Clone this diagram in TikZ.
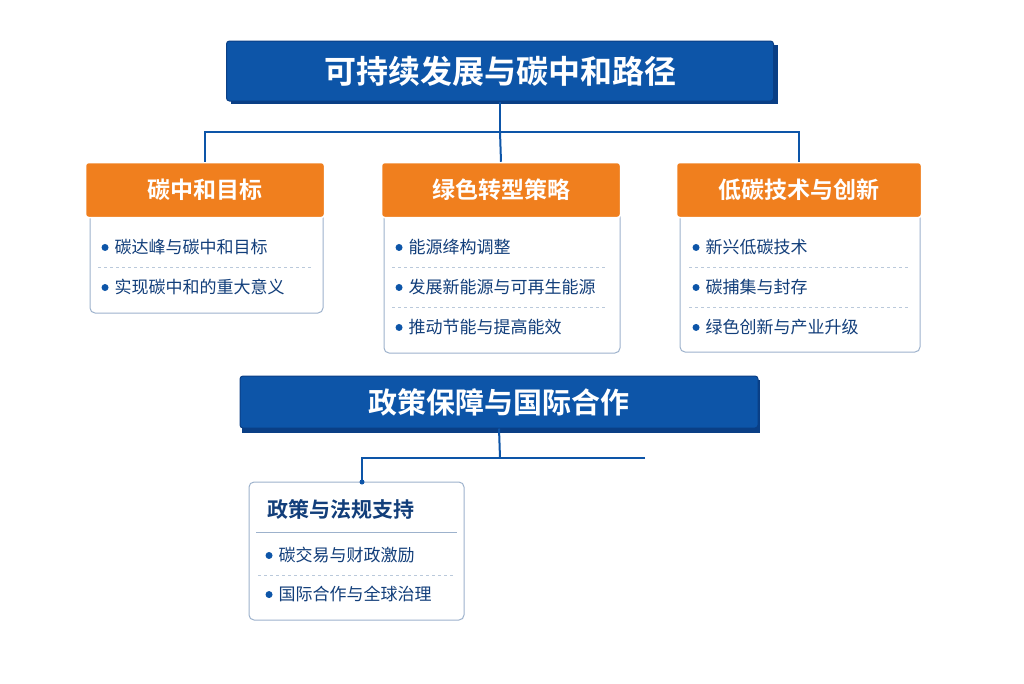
\documentclass[tikz,border=0pt]{standalone}
\usepackage{fontspec}
\setmainfont{Noto Sans CJK SC}
\newfontfamily\cjkbold{Noto Sans CJK SC Bold}
\usetikzlibrary{positioning}
\definecolor{mainblue}{HTML}{0D55A8}
\definecolor{darkblue}{HTML}{0A3F85}
\definecolor{mainorange}{HTML}{F07F1E}
\definecolor{boxline}{HTML}{9DB2CC}
\definecolor{textblue}{HTML}{123E7A}
\newcommand{\dotmark}{\tikz[baseline={(0,-6pt)}]\fill[mainblue] (0,0) circle [radius=3.5pt];\hspace{6pt}}

\begin{document}
\begin{tikzpicture}[x=1pt, y=-1pt,
    bluebar/.style={fill=mainblue, draw=darkblue, line width=1pt, rounded corners=3pt, text=white, font=\cjkbold},
    orangebar/.style={fill=mainorange, draw=white, line width=1.5pt, rounded corners=3pt, text=white, font=\cjkbold\fontsize{23}{26}\selectfont},
    itembox/.style={fill=white, draw=boxline, line width=1pt, rounded corners=5pt},
    item/.style={anchor=west, text=textblue, font=\fontsize{17}{20}\selectfont},
    sep/.style={draw=boxline!70, dashed, line width=0.5pt},
    link/.style={draw=mainblue, line width=2pt}]
    \useasboundingbox (0,0) rectangle (1024,683);

    % Title and policy bars
    \fill[darkblue] (231,45) rectangle (778,104);
    \node [bluebar, minimum width=547pt, minimum height=60pt, font=\cjkbold\fontsize{32}{36}\selectfont] (title) at (500,71) {可持续发展与碳中和路径};
    \fill[darkblue] (242,380) rectangle (760,433);
    \node [bluebar, minimum width=518pt, minimum height=52pt, font=\cjkbold\fontsize{29}{32}\selectfont] (policy) at (499,402) {政策保障与国际合作};

    % Item boxes
    \draw [itembox] (90,210) rectangle (323,313);
    \draw [itembox] (384,210) rectangle (620,353);
    \draw [itembox] (680,210) rectangle (920,352);

    % Orange headers
    \node [orangebar, minimum width=239pt, minimum height=55pt] (goal) at (205,190) {碳中和目标};
    \node [orangebar, minimum width=239pt, minimum height=55pt] (green) at (501,190) {绿色转型策略};
    \node [orangebar, minimum width=245pt, minimum height=55pt] (tech) at (799,190) {低碳技术与创新};

    % Items
    \foreach \x/\list in {98/{碳达峰与碳中和目标,实现碳中和的重大意义},
                          392/{能源绛构调整,发展新能源与可再生能源,推动节能与提高能效},
                          689/{新兴低碳技术,碳捕集与封存,绿色创新与产业升级}} {
        \foreach \t [count=\i] in \list {
            \node [item] (it-\x-\i) at (\x,207+40*\i) {\dotmark\t};
        }
    }
    \foreach \x/\w/\n in {98/215/1, 392/215/2, 689/220/2}
        \foreach \i in {1,...,\n}
            \draw [sep] (\x,227+40*\i) -- ++(\w,0);

    % Sub box
    \draw [itembox] (249,482) rectangle (464,620);
    \node [anchor=west, text=textblue, font=\cjkbold\fontsize{21}{24}\selectfont] (law) at (264,509) {政策与法规支持};
    \draw [boxline, line width=1pt] (256,532) -- (457,532);
    \node [item] (law-1) at (262,555) {\dotmark 碳交易与财政激励};
    \node [item] (law-2) at (262,594) {\dotmark 国际合作与全球治理};
    \draw [sep] (258,575) -- (455,575);

    % Connectors
    \coordinate (split) at (500,458);
    \coordinate (open) at (645,458);
    \draw [link] (title.south) -- (500,132) -| (goal.north);
    \draw [link] (500,132) -| (tech.north);
    \draw [link] (500,132) -- (green.north);
    \draw [link] (policy.south) -- (split);
    \draw [link] (open) -- (362,458) -- (362,482);
    \fill [mainblue] (362,482) circle (2.5pt);
\end{tikzpicture}
\end{document}
